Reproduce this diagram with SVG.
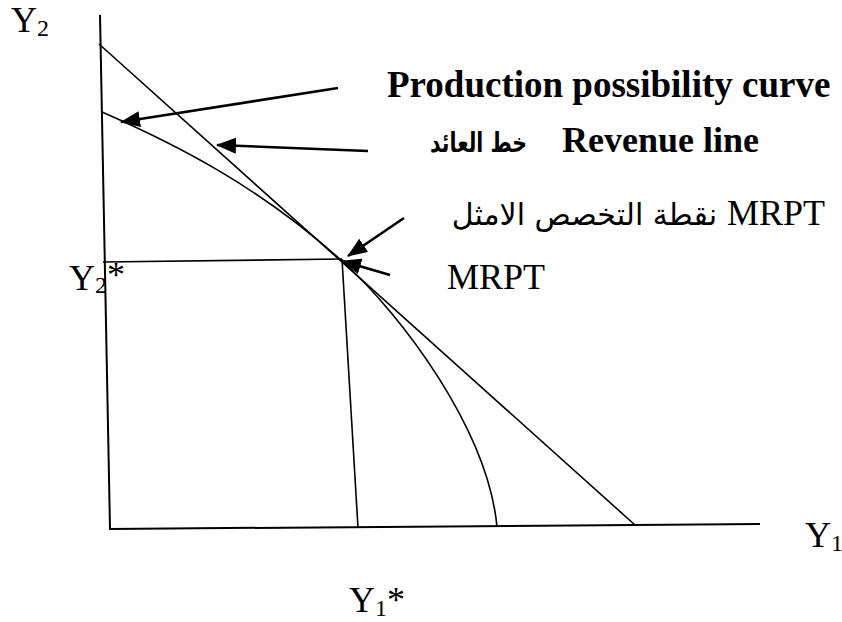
<svg xmlns="http://www.w3.org/2000/svg" width="842" height="622" viewBox="0 0 842 622">
<style>
.ax{stroke:#000;stroke-width:2;fill:none}
.ln{stroke:#000;stroke-width:1.6;fill:none}
.ar{stroke:#000;stroke-width:2.6;fill:none}
.t{font-family:"Liberation Serif","Times New Roman","DejaVu Serif",serif;fill:#000}
.ab{font-family:"DejaVu Sans","Noto Sans",sans-serif;fill:#000}
.b{font-weight:bold}
</style>
<defs>
<marker id="ah" markerUnits="userSpaceOnUse" markerWidth="20" markerHeight="16" refX="19" refY="8" orient="auto">
<path d="M0,0 L20,8 L0,16 z" fill="#000"/>
</marker>
</defs>
<rect width="842" height="622" fill="#fff"/>
<g id="axes">
<line class="ax" x1="100" y1="15" x2="110" y2="529"/>
<line class="ax" x1="109" y1="529" x2="760" y2="524"/>
</g>
<g id="curves">
<line id="revenue-line" class="ln" x1="99" y1="44" x2="635" y2="525"/>
<path id="ppc" class="ln" d="M102,112 C182,147 262,189 342,261 C402,315 488,430 497,527"/>
<line id="y2star-line" class="ln" x1="103" y1="262" x2="342" y2="259"/>
<line id="y1star-line" class="ln" x1="342" y1="259" x2="358" y2="528"/>
</g>
<g id="connectors">
<line class="ar" x1="338" y1="88" x2="121" y2="122" marker-end="url(#ah)"/>
<line class="ar" x1="368" y1="151" x2="217" y2="145" marker-end="url(#ah)"/>
<line class="ar" x1="404" y1="218" x2="348" y2="256" marker-end="url(#ah)"/>
<line class="ar" x1="390" y1="275" x2="342" y2="261" marker-end="url(#ah)"/>
</g>
<g id="labels">
<text class="t" x="11" y="32" font-size="36">Y<tspan font-size="24" dy="4">2</tspan></text>
<text class="t" x="69" y="290" font-size="36">Y<tspan font-size="24" dy="3">2</tspan><tspan font-size="36" dy="-6">*</tspan></text>
<text class="t" x="805" y="547" font-size="36">Y<tspan font-size="24" dy="4">1</tspan></text>
<text class="t" x="349" y="612" font-size="36">Y<tspan font-size="24" dy="4">1</tspan><tspan font-size="36" dy="-4">*</tspan></text>
<text class="t b" x="387" y="97" font-size="37">Production possibility curve</text>
<text class="t b" x="562" y="152" font-size="36">Revenue line</text>
<text class="ab b" x="430" y="152" font-size="27" textLength="97" lengthAdjust="spacingAndGlyphs">خط العائد</text>
<text class="t" x="727" y="225" font-size="36">MRPT</text>
<text class="ab" x="717" y="225" font-size="30" text-anchor="end">نقطة التخصص الامثل</text>
<text class="t" x="447" y="289" font-size="36">MRPT</text>
</g>
</svg>
